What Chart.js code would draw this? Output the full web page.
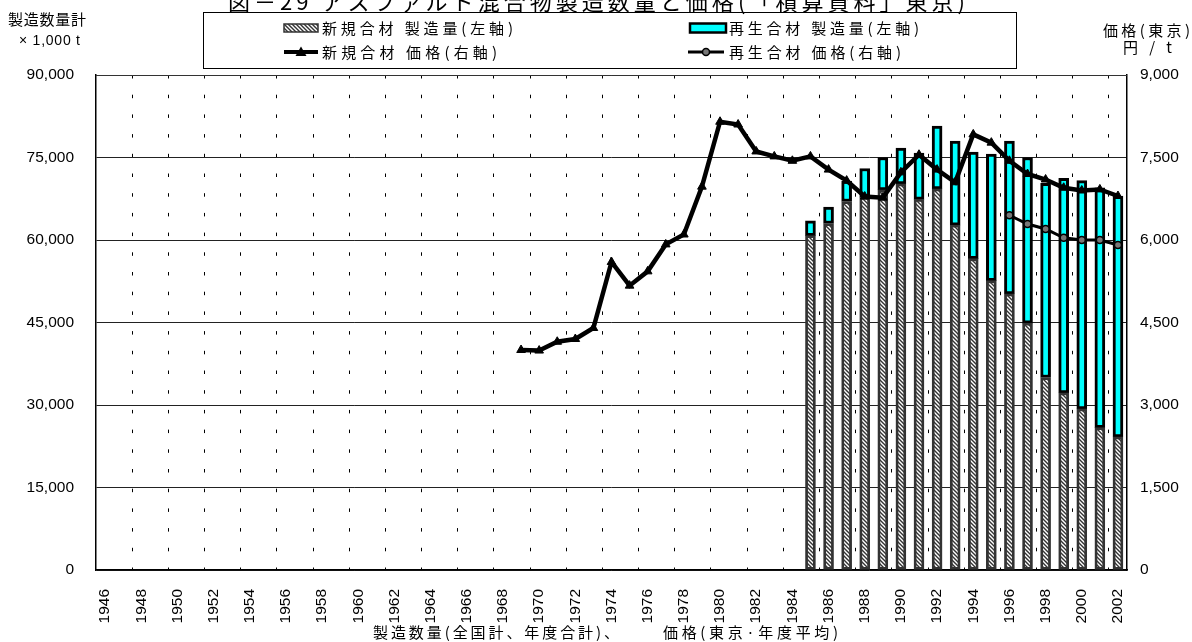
<!DOCTYPE html>
<html>
<head>
<meta charset="utf-8">
<script src="https://cdn.jsdelivr.net/npm/chart.js@4.4.0/dist/chart.umd.min.js"></script>
<style>
html,body{margin:0;padding:0;background:#fff;}
canvas{display:block;}
</style>
</head>
<body>
<canvas id="c" width="1192" height="642"></canvas>
<script>
// ---- Data ----
const years = ['1946','1947','1948','1949','1950','1951','1952','1953','1954','1955',
  '1956','1957','1958','1959','1960','1961','1962','1963','1964','1965',
  '1966','1967','1968','1969','1970','1971','1972','1973','1974','1975',
  '1976','1977','1978','1979','1980','1981','1982','1983','1984','1985',
  '1986','1987','1988','1989','1990','1991','1992','1993','1994','1995',
  '1996','1997','1998','1999','2000','2001','2002'];

// production (x 1,000 t), 1985-2002
const prodStart = '1985';
const newProd = [60800, 63000, 67000, 67800, 69100, 70200, 67400, 69300, 62700,
  56600, 52600, 50200, 44900, 35000, 32200, 29300, 25900, 24200];
const recycledProd = [2700, 3000, 3700, 5200, 5900, 6500, 8400, 11400, 15300,
  19400, 23000, 27800, 30100, 35300, 39000, 41500, 43600, 43800];

// price (yen / t), Tokyo
const newPriceStart = '1969';
const newPrice = [4000, 3990, 4150, 4200, 4400, 5600, 5170, 5430, 5920, 6100,
  6970, 8150, 8100, 7610, 7520, 7440, 7520, 7280, 7080, 6790, 6770, 7230, 7550,
  7280, 7050, 7920, 7770, 7440, 7200, 7100, 6950, 6900, 6920, 6800];
const recycledPriceStart = '1996';
const recycledPrice = [6450, 6290, 6200, 6040, 6000, 6000, 5910];

const leftTicks = {min: 0, max: 90000, step: 15000};
const rightTicks = {min: 0, max: 9000, step: 1500};

const seriesNames = ['新規合材 製造量(左軸)', '再生合材 製造量(左軸)', '新規合材 価格(右軸)', '再生合材 価格(右軸)'];
const titleText = '図－29 アスファルト混合物製造数量と価格(「積算資料」東京)';
const leftTitle = ['製造数量計', '× 1,000 t'];
const rightTitle = ['価格(東京)', '円 / t'];
const bottomTitle = ['製造数量(全国計、年度合計)、', '価格(東京·年度平均)'];

// align a series starting at a given year onto the category list
function pad(start, vals) {
  const s = years.indexOf(start);
  return years.map((y, i) => (i >= s && i - s < vals.length) ? vals[i - s] : null);
}

const canvas = document.getElementById('c');
const mainCtx = canvas.getContext('2d');

function makeHatch() {
  const c = document.createElement('canvas');
  c.width = 4; c.height = 4;
  const g = c.getContext('2d');
  g.fillStyle = '#ffffff';
  g.fillRect(0, 0, 4, 4);
  g.strokeStyle = '#333333';
  g.lineWidth = 1.4;
  g.beginPath();
  g.moveTo(-1, -1); g.lineTo(5, 5);
  g.moveTo(-1, 3); g.lineTo(1, 5);
  g.moveTo(3, -1); g.lineTo(5, 1);
  g.stroke();
  return mainCtx.createPattern(c, 'repeat');
}
const hatch = makeHatch();

const NUM_FONT = '"Liberation Sans", Arial, sans-serif';
const JP_FONT = '"Noto Sans CJK JP", "Noto Sans", sans-serif';

function fitText(ctx, text, x1, x2, y, font, color) {
  ctx.save();
  ctx.font = font;
  ctx.fillStyle = color || '#000';
  ctx.textBaseline = 'middle';
  ctx.textAlign = 'left';
  try { ctx.letterSpacing = '0px'; } catch (e) {}
  const w = ctx.measureText(text).width;
  const n = Array.from(text).length;
  const s = n > 1 ? (x2 - x1 - w) / (n - 1) : 0;
  try { ctx.letterSpacing = s + 'px'; } catch (e) {}
  ctx.fillText(text, x1, y);
  ctx.restore();
}

const decorPlugin = {
  id: 'decor',
  beforeDatasetsDraw(chart) {
    const ctx = chart.ctx, a = chart.chartArea;
    ctx.save();
    ctx.strokeStyle = '#333';
    ctx.lineWidth = 1;
    ctx.beginPath();
    ctx.moveTo(a.left, a.top + 0.5);
    ctx.lineTo(a.right, a.top + 0.5);
    ctx.stroke();
    ctx.restore();
  },
  afterDraw(chart) {
    const ctx = chart.ctx;
    // title (clipped at top as in the original)
    fitText(ctx, titleText, 228, 965, 2, '22px ' + JP_FONT);

    // legend box
    ctx.save();
    ctx.strokeStyle = '#000';
    ctx.lineWidth = 1;
    ctx.strokeRect(203.5, 12.5, 813, 56);
    // hatched swatch
    ctx.fillStyle = hatch;
    ctx.fillRect(284, 24, 34, 8);
    ctx.strokeStyle = '#333';
    ctx.lineWidth = 1.5;
    ctx.strokeRect(284, 24, 34, 8);
    // cyan swatch
    ctx.fillStyle = '#00ffff';
    ctx.fillRect(690, 23.5, 36, 9);
    ctx.strokeStyle = '#000';
    ctx.lineWidth = 2.5;
    ctx.strokeRect(690, 23.5, 36, 9);
    // new price line
    ctx.lineWidth = 4;
    ctx.beginPath(); ctx.moveTo(284, 52); ctx.lineTo(318, 52); ctx.stroke();
    ctx.fillStyle = '#000';
    ctx.beginPath();
    ctx.moveTo(301, 46.5); ctx.lineTo(306.5, 56); ctx.lineTo(295.5, 56); ctx.closePath();
    ctx.fill();
    // recycled price line
    ctx.lineWidth = 3;
    ctx.beginPath(); ctx.moveTo(688, 52); ctx.lineTo(724, 52); ctx.stroke();
    ctx.fillStyle = '#777';
    ctx.lineWidth = 1.5;
    ctx.beginPath(); ctx.arc(706, 52, 3.5, 0, Math.PI * 2); ctx.fill(); ctx.stroke();
    ctx.restore();

    fitText(ctx, seriesNames[0], 322, 513, 28, '15px ' + JP_FONT);
    fitText(ctx, seriesNames[2], 322, 497, 52, '15px ' + JP_FONT);
    fitText(ctx, seriesNames[1], 729, 919, 28, '15px ' + JP_FONT);
    fitText(ctx, seriesNames[3], 729, 901, 52, '15px ' + JP_FONT);

    // axis titles
    fitText(ctx, leftTitle[0], 8, 86, 19, '15px ' + JP_FONT);
    fitText(ctx, leftTitle[1], 19, 80, 41, '14px ' + NUM_FONT);
    fitText(ctx, rightTitle[0], 1103, 1190, 30, '15px ' + JP_FONT);
    fitText(ctx, rightTitle[1], 1123, 1172, 47, '15px ' + JP_FONT);
    fitText(ctx, bottomTitle[0], 373, 619, 632, '15px ' + JP_FONT);
    fitText(ctx, bottomTitle[1], 663, 838, 632, '15px ' + JP_FONT);
  }
};

const tickFont = {family: NUM_FONT, size: 15.5};

new Chart(mainCtx, {
  type: 'bar',
  data: {
    labels: years,
    datasets: [
      {
        type: 'line', label: seriesNames[2], data: pad(newPriceStart, newPrice),
        yAxisID: 'y2', order: 0,
        borderColor: '#000', borderWidth: 4.5, tension: 0, spanGaps: false,
        pointStyle: 'triangle', pointRadius: 5, pointBackgroundColor: '#000',
        pointBorderColor: '#000', pointBorderWidth: 1
      },
      {
        type: 'line', label: seriesNames[3], data: pad(recycledPriceStart, recycledPrice),
        yAxisID: 'y2', order: 1,
        borderColor: '#000', borderWidth: 3, tension: 0, spanGaps: false,
        pointStyle: 'circle', pointRadius: 3.5, pointBackgroundColor: '#777',
        pointBorderColor: '#000', pointBorderWidth: 1.5
      },
      {
        type: 'bar', label: seriesNames[0], data: pad(prodStart, newProd),
        yAxisID: 'y', stack: 's', order: 2,
        backgroundColor: hatch, borderColor: '#333333', borderWidth: 2.8,
        borderSkipped: false, barThickness: 10
      },
      {
        type: 'bar', label: seriesNames[1], data: pad(prodStart, recycledProd),
        yAxisID: 'y', stack: 's', order: 3,
        backgroundColor: '#00ffff', borderColor: '#000', borderWidth: 3,
        borderSkipped: false, barThickness: 10
      }
    ]
  },
  options: {
    responsive: false,
    animation: false,
    devicePixelRatio: 1,
    events: [],
    layout: {padding: {top: 75, left: 0, right: 0, bottom: 0}},
    plugins: {legend: {display: false}, title: {display: false}, tooltip: {enabled: false}},
    scales: {
      x: {
        stacked: true,
        offset: true,
        grid: {
          display: true, drawTicks: false, offset: true, lineWidth: 1,
          color: (c) => (c.index > 0 && c.index % 2 === 0) ? '#000' : 'rgba(0,0,0,0)'
        },
        border: {display: true, color: '#000', width: 1.5, dash: [3.5, 16.2], dashOffset: 0},
        ticks: {
          autoSkip: false, maxRotation: 90, minRotation: 90, padding: 19,
          color: '#000', font: tickFont,
          callback: function (v, i) { return i % 2 === 0 ? this.getLabelForValue(v) : ''; }
        },
        afterFit(s) { s.height = 72; }
      },
      y: {
        position: 'left', stacked: true,
        min: leftTicks.min, max: leftTicks.max,
        ticks: {stepSize: leftTicks.step, padding: 22, color: '#000', font: tickFont},
        grid: {color: '#222', lineWidth: 1, drawTicks: false},
        border: {display: true, color: '#000', width: 1.5},
        afterFit(s) { s.width = 96; }
      },
      y2: {
        position: 'right',
        min: rightTicks.min, max: rightTicks.max,
        ticks: {stepSize: rightTicks.step, padding: 13, color: '#000', font: tickFont},
        grid: {drawOnChartArea: false, drawTicks: false},
        border: {display: true, color: '#000', width: 1.5},
        afterFit(s) { s.width = 65; }
      }
    }
  },
  plugins: [decorPlugin]
});
</script>
</body>
</html>
